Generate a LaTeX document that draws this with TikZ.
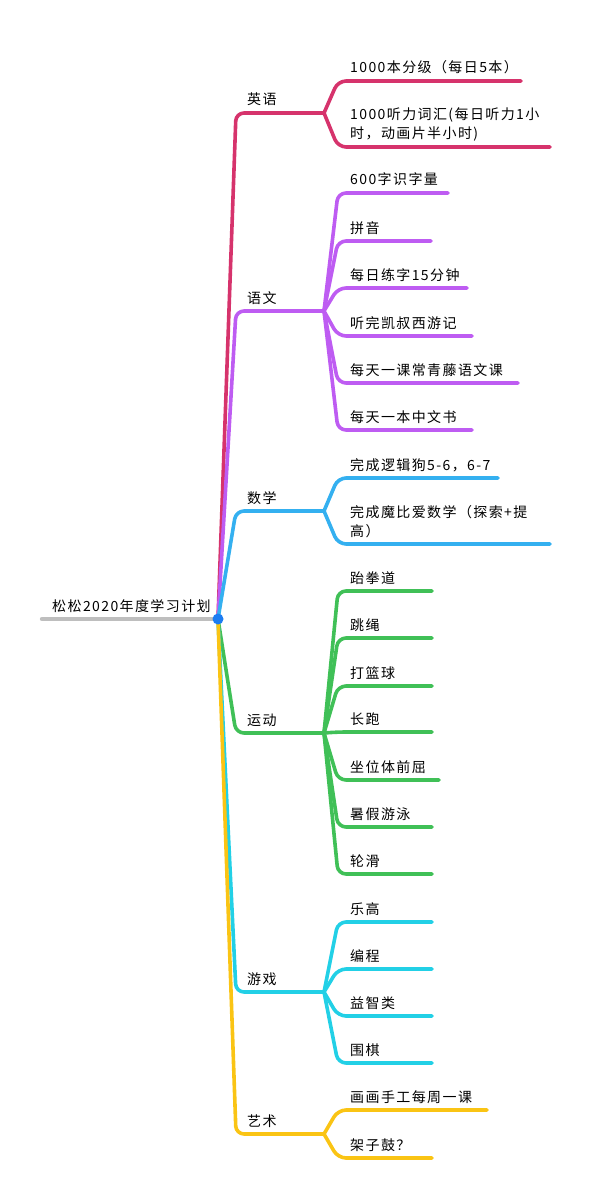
\documentclass[tikz,border=0pt]{standalone}
\usepackage{fontspec}
\newfontfamily\cjk{Noto Sans CJK SC}[LetterSpace=10]
\usetikzlibrary{calc}

\definecolor{rootgray}{RGB}{190,190,190}
\definecolor{rootblue}{RGB}{28,124,242}
\definecolor{yingyu}{RGB}{214,51,108}
\definecolor{yuwen}{RGB}{190,92,242}
\definecolor{shuxue}{RGB}{52,176,240}
\definecolor{yundong}{RGB}{64,192,87}
\definecolor{youxi}{RGB}{34,208,230}
\definecolor{yishu}{RGB}{250,196,20}

\tikzset{
  link/.style={line width=3.6pt, line cap=round, line join=round, rounded corners=8pt},
  topic/.style={anchor=base west, inner sep=0pt, align=left,
    font=\fontsize{14}{19}\selectfont\cjk},
}

\begin{document}
\begin{tikzpicture}[x=1pt,y=-1pt]
  \useasboundingbox (0,0) rectangle (591,1201);
  % Root
  \coordinate (root) at (218,619);
  \coordinate (tail) at (42,619);
  \draw[link,rootgray,line width=4.4pt] (tail) -- (root);
  \node[topic] (title) at (52,611) {松松2020年度学习计划};

  % 英语
  \coordinate (yy) at (324,113);
  \draw[link,yingyu] (root) -- (236,113) -- (yy);
  \node[topic] (yy-l) at (247,105) {英语};
  \foreach \yc/\xe/\txt [count=\i] in {81/521/{1000本分级（每日5本）},
      147/550/{1000听力词汇(每日听力1小\\时，动画片半小时)}} {
    \coordinate (yy-e\i) at (\xe,\yc);
    \draw[link,yingyu] (yy) -- (338,\yc) -- (yy-e\i);
    \node[topic] (yy-t\i) at (350,\yc-8) {\txt};
  }

  % 语文
  \coordinate (yw) at (324,311);
  \draw[link,yuwen] (root) -- (236,311) -- (yw);
  \node[topic] (yw-l) at (247,303) {语文};
  \foreach \yc/\xe/\txt [count=\i] in {193/448/{600字识字量}, 241/431/{拼音},
      288/467/{每日练字15分钟}, 336/472/{听完凯叔西游记},
      383/518/{每天一课常青藤语文课}, 430/472/{每天一本中文书}} {
    \coordinate (yw-e\i) at (\xe,\yc);
    \draw[link,yuwen] (yw) -- (338,\yc) -- (yw-e\i);
    \node[topic] (yw-t\i) at (350,\yc-8) {\txt};
  }

  % 数学
  \coordinate (sx) at (324,511);
  \draw[link,shuxue] (root) -- (236,511) -- (sx);
  \node[topic] (sx-l) at (247,503) {数学};
  \foreach \yc/\xe/\txt [count=\i] in {478/498/{完成逻辑狗5-6，6-7},
      544/550/{完成魔比爱数学（探索+提\\高）}} {
    \coordinate (sx-e\i) at (\xe,\yc);
    \draw[link,shuxue] (sx) -- (338,\yc) -- (sx-e\i);
    \node[topic] (sx-t\i) at (350,\yc-8) {\txt};
  }

  % 运动
  \coordinate (yd) at (324,733);
  \draw[link,yundong] (root) -- (236,733) -- (yd);
  \node[topic] (yd-l) at (247,725) {运动};
  \foreach \yc/\xe/\txt [count=\i] in {591/432/{跆拳道}, 638/432/{跳绳},
      686/432/{打篮球}, 732/432/{长跑}, 780/439/{坐位体前屈},
      827/432/{暑假游泳}, 874/432/{轮滑}} {
    \coordinate (yd-e\i) at (\xe,\yc);
    \draw[link,yundong] (yd) -- (338,\yc) -- (yd-e\i);
    \node[topic] (yd-t\i) at (350,\yc-8) {\txt};
  }

  % 游戏
  \coordinate (yx) at (324,992);
  \draw[link,youxi] (root) -- (236,992) -- (yx);
  \node[topic] (yx-l) at (247,984) {游戏};
  \foreach \yc/\xe/\txt [count=\i] in {922/432/{乐高}, 969/432/{编程},
      1016/432/{益智类}, 1063/432/{围棋}} {
    \coordinate (yx-e\i) at (\xe,\yc);
    \draw[link,youxi] (yx) -- (338,\yc) -- (yx-e\i);
    \node[topic] (yx-t\i) at (350,\yc-8) {\txt};
  }

  % 艺术
  \coordinate (ys) at (324,1134);
  \draw[link,yishu] (root) -- (236,1134) -- (ys);
  \node[topic] (ys-l) at (247,1126) {艺术};
  \foreach \yc/\xe/\txt [count=\i] in {1110/487/{画画手工每周一课},
      1158/432/{架子鼓？}} {
    \coordinate (ys-e\i) at (\xe,\yc);
    \draw[link,yishu] (ys) -- (338,\yc) -- (ys-e\i);
    \node[topic] (ys-t\i) at (350,\yc-8) {\txt};
  }

  \fill[rootblue] (root) circle (5.5);
\end{tikzpicture}
\end{document}
